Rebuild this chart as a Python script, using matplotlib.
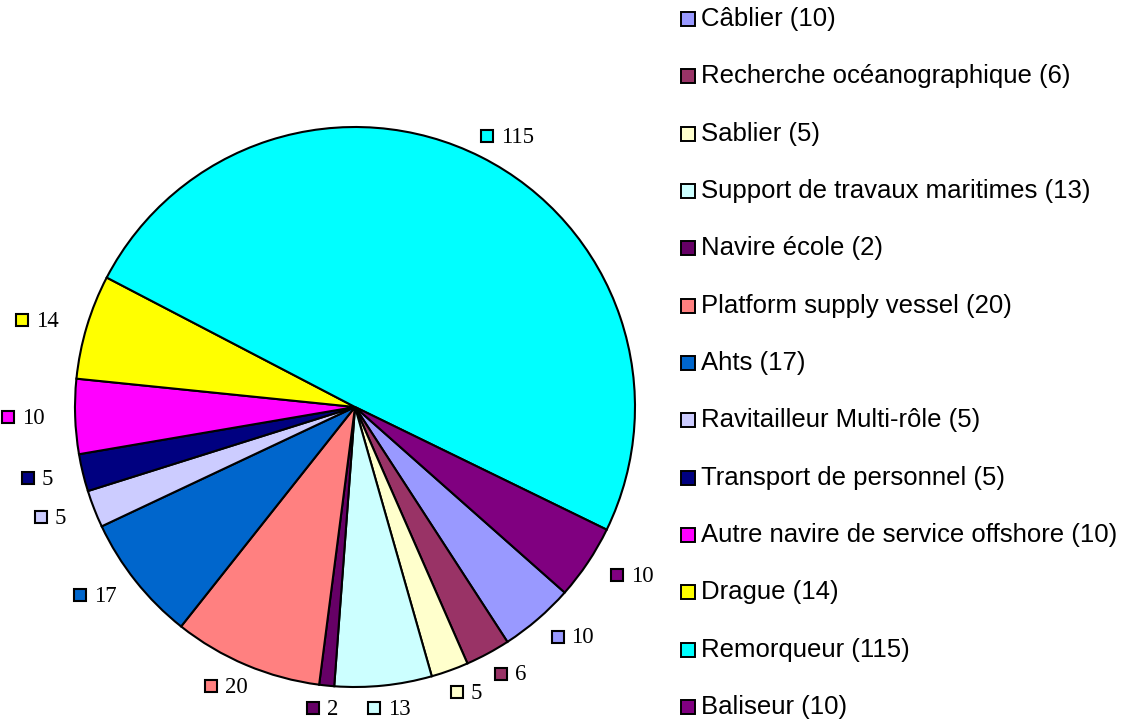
import matplotlib
matplotlib.use("Agg")
import matplotlib.pyplot as plt
import numpy as np

categories = ["Câblier", "Recherche océanographique", "Sablier", "Support de travaux maritimes",
              "Navire école", "Platform supply vessel", "Ahts", "Ravitailleur Multi-rôle",
              "Transport de personnel", "Autre navire de service offshore", "Drague",
              "Remorqueur", "Baliseur"]
values = [10, 6, 5, 13, 2, 20, 17, 5, 5, 10, 14, 115, 10]
colors = ["#9999FF", "#993366", "#FFFFCC", "#CCFFFF", "#660066", "#FF8080", "#0066CC",
          "#CCCCFF", "#000080", "#FF00FF", "#FFFF00", "#00FFFF", "#800080"]

W, H = 1125, 724
fig = plt.figure(figsize=(W / 100, H / 100), dpi=100)
ax = fig.add_axes([0, 0, 1, 1])

cx, cy, R = 355, H - 407, 280
start = -41.5
wedges, _ = ax.pie(values, colors=colors, startangle=start, counterclock=False,
                   radius=R, center=(cx, cy), frame=True,
                   wedgeprops=dict(edgecolor="black", linewidth=1.5))
ax.set_xlim(0, W)
ax.set_ylim(0, H)
ax.set_aspect("equal")
ax.axis("off")

serif = "Liberation Serif"
gap_x, gap_y = 20, 16
lab_h = 14
for w, v, c in zip(wedges, values, colors):
    th = np.deg2rad((w.theta1 + w.theta2) / 2)
    n = len(str(v))
    width = 12 + 8 + 10.5 * n
    bx = cx + (R + gap_x) * np.cos(th) + (width / 2 + 12) * np.cos(th)
    by = cy + (R + gap_y) * np.sin(th) + lab_h / 2 * np.sin(th)
    left = bx - width / 2
    ax.plot(left + 6, by, marker="s", markersize=8, markerfacecolor=c,
            markeredgecolor="black", markeredgewidth=1.5, clip_on=False)
    ax.text(left + 20, by - 1, str(v), ha="left", va="center", fontsize=16.5,
            family=serif, color="black")

# Legend
for i, (cat, v, c) in enumerate(zip(categories, values, colors)):
    y = H - (19 + i * 57.33)
    ax.plot(688, y, marker="s", markersize=9.5, markerfacecolor=c,
            markeredgecolor="black", markeredgewidth=1.4, clip_on=False)
    ax.text(701, y, f"{cat} ({v})", ha="left", va="center", fontsize=18.5,
            family="Liberation Sans", color="black")

fig.savefig("out.png", dpi=100)
